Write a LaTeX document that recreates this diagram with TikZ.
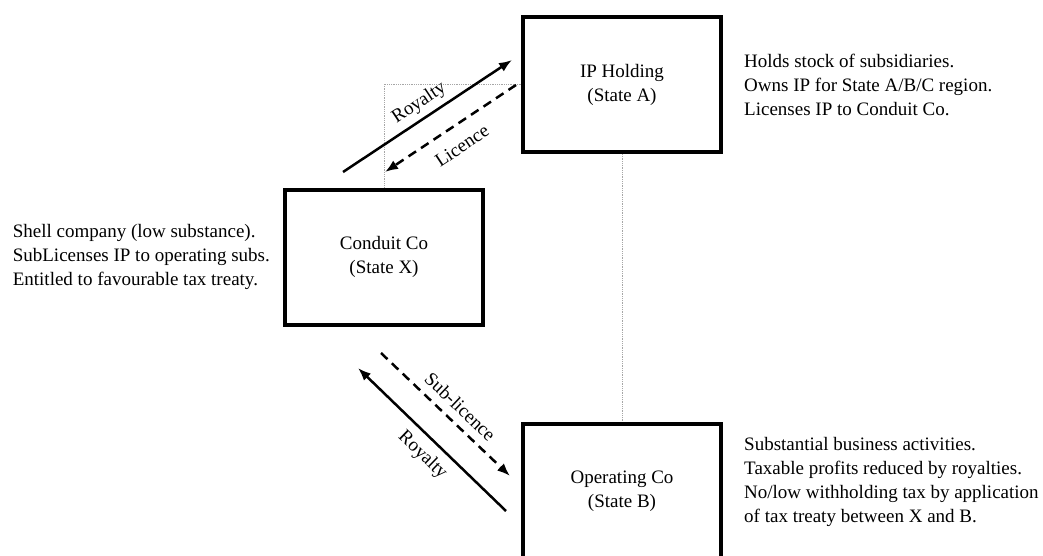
\documentclass[tikz,border=0pt]{standalone}
\usepackage{fontspec}
\setmainfont{Liberation Serif}
\usetikzlibrary{arrows.meta}
\usetikzlibrary{positioning}

\begin{document}
\begin{tikzpicture}[x=1pt, y=-1pt,
    font=\fontsize{19}{24}\selectfont,
    entity/.style={draw, line width=4pt, minimum width=198pt, minimum height=135pt, align=center},
    note/.style={align=left, inner sep=2pt},
    flow/.style={line width=2.5pt, -{Latex[length=13pt, width=10pt]}},
    licflow/.style={flow, dash pattern=on 9pt off 6pt},
    link/.style={gray!70, line width=0.8pt, densely dotted},
    tag/.style={sloped, inner sep=2pt}]
    \useasboundingbox (0,0) rectangle (1043,556);
    \node[entity] (ip) at (622,84.5) {IP Holding\\(State A)};
    \node[entity] (cond) at (384,257) {Conduit Co\\(State X)};
    \node[entity] (op) at (622,491.5) {Operating Co\\(State B)};
    \draw [link] (cond.north) |- (ip.west);
    \draw [link] (ip.south) -- (op.north);
    \node[note, right=19pt of ip] (ipnote) {Holds stock of subsidiaries.\\Owns IP for State A/B/C region.\\Licenses IP to Conduit Co.};
    \node[note, left=11pt of cond] (condnote) {Shell company (low substance).\\SubLicenses IP to operating subs.\\Entitled to favourable tax treaty.};
    \node[note, right=19pt of op, yshift=10pt] (opnote) {Substantial business activities.\\Taxable profits reduced by royalties.\\No/low withholding tax by application\\of tax treaty between X and B.};
    \coordinate (roytail) at (343,172);
    \coordinate (royhead) at (512,60);
    \coordinate (lictail) at (516,85);
    \coordinate (lichead) at (385,172);
    \coordinate (subtail) at (381,353);
    \coordinate (subhead) at (510,476);
    \coordinate (paytail) at (506,511);
    \coordinate (payhead) at (358,368);
    \draw [flow] (roytail) -- (royhead) node[tag, midway, above=3pt] {Royalty};
    \draw [licflow] (lictail) -- (lichead) node[tag, midway, below=11pt] {Licence};
    \draw [licflow] (subtail) -- (subhead) node[tag, pos=0.53, above=6pt] {Sub-licence};
    \draw [flow] (paytail) -- (payhead) node[tag, pos=0.48, below=6pt] {Royalty};
\end{tikzpicture}
\end{document}
